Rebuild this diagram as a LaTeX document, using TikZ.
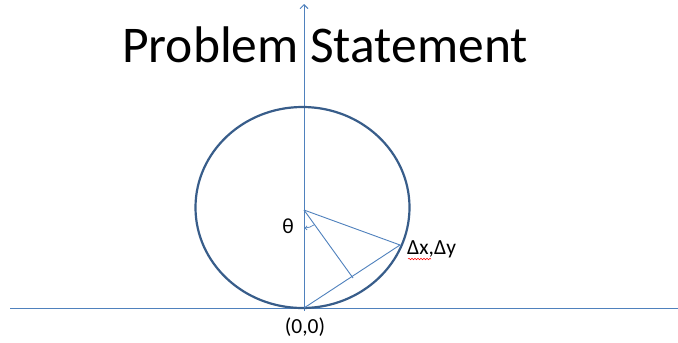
\documentclass[tikz,border=0pt]{standalone}
\usepackage{fontspec}
\setmainfont{Carlito}
\usetikzlibrary{arrows.meta,decorations.pathmorphing,calc}
\definecolor{axisblue}{RGB}{79,129,189}
\definecolor{circblue}{RGB}{56,93,138}
\tikzset{
  axis/.style={draw=axisblue, line width=0.9pt},
  lbl/.style={font=\fontsize{21.5}{24}\selectfont, inner sep=0pt},
}
\begin{document}
\begin{tikzpicture}[x=1pt,y=-1pt]
\useasboundingbox (0,0) rectangle (678,343);
\fill[white] (0,0) rectangle (678,343);
\coordinate (O) at (304,308);
\coordinate (C) at (304,210);
\coordinate (P) at (400,245);
\coordinate (F) at (353,278);
\coordinate (top) at (304,4);
\coordinate (bot) at (304,311);
\coordinate (L) at (10,308);
\coordinate (R) at (678,308);
% title
\node[inner sep=0pt, font=\fontsize{51.5}{56}\selectfont] (title) at (325,45) {Problem Statement};
% axes
\draw[axis] (L) -- (R);
\draw[axis, -{Straight Barb[length=4pt,width=8pt]}] (bot) -- (top);
% circle
\draw[draw=circblue, line width=2.2pt] (302.5,207.5) ellipse [x radius=107, y radius=100.5];
% lines
\draw[axis] (C) -- (P) -- (O);
\draw[axis] (C) -- (F);
% angle arc
\draw[axis, line width=0.7pt, -{Straight Barb[length=2pt,width=4pt]}] ($(C)!18pt!(F)$) arc[start angle=54, end angle=88, radius=18];
% labels
\node[lbl] (theta) at (288,226) {θ};
\node[lbl, anchor=west] (pt) at (407,249) {Δx,Δy};
\draw[red, line width=0.5pt, decorate, decoration={snake, amplitude=0.8pt, segment length=3pt}] (408,259) -- (431,259);
\node[lbl] (orig) at (305,327) {(0,0)};
\end{tikzpicture}
\end{document}
